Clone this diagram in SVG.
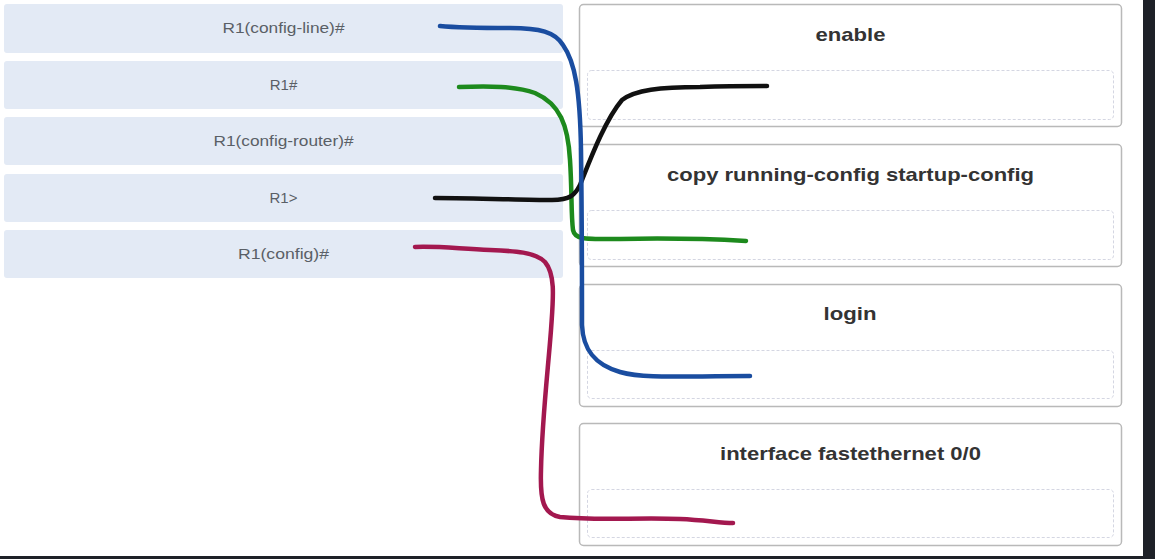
<svg xmlns="http://www.w3.org/2000/svg" width="1155" height="559" viewBox="0 0 1155 559">
<style>
.src{fill:#e3eaf5;}
.srct{font-family:"Liberation Sans",Arial,sans-serif;font-size:15px;fill:#5a5f66;text-anchor:middle;}
.tgt{fill:#ffffff;stroke:#b9b9b9;stroke-width:1.5;}
.drop{fill:#ffffff;stroke:#d4d6e2;stroke-width:1;stroke-dasharray:3 2;}
.tt{font-family:"Liberation Sans",Arial,sans-serif;font-size:19px;font-weight:bold;fill:#333333;text-anchor:middle;}
.ln{fill:none;stroke-width:4.5;stroke-linecap:round;stroke-linejoin:round;}
</style>
<rect x="0" y="0" width="1155" height="559" fill="#ffffff"/>
<rect x="1143" y="0" width="12" height="559" fill="#1e2128"/>
<rect x="0" y="556" width="1155" height="3" fill="#1e2128"/>

<g id="src1"><rect class="src" x="4" y="4" width="559" height="49" rx="3"/><text class="srct" x="283.5" y="33" textLength="122" lengthAdjust="spacingAndGlyphs">R1(config-line)#</text></g>
<g id="src2"><rect class="src" x="4" y="61" width="559" height="48" rx="3"/><text class="srct" x="283.5" y="90">R1#</text></g>
<g id="src3"><rect class="src" x="4" y="117" width="559" height="48" rx="3"/><text class="srct" x="283.5" y="146" textLength="140" lengthAdjust="spacingAndGlyphs">R1(config-router)#</text></g>
<g id="src4"><rect class="src" x="4" y="174" width="559" height="48" rx="3"/><text class="srct" x="283.5" y="203">R1&gt;</text></g>
<g id="src5"><rect class="src" x="4" y="230" width="559" height="48" rx="3"/><text class="srct" x="283.5" y="259" textLength="91" lengthAdjust="spacingAndGlyphs">R1(config)#</text></g>

<g id="tgt1"><rect class="tgt" x="579.5" y="4.5" width="542" height="122" rx="4"/><rect class="drop" x="587.5" y="70.5" width="526" height="49" rx="4"/><text class="tt" x="850.5" y="41" textLength="70" lengthAdjust="spacingAndGlyphs">enable</text></g>
<g id="tgt2"><rect class="tgt" x="579.5" y="144.5" width="542" height="122" rx="4"/><rect class="drop" x="587.5" y="210.5" width="526" height="49" rx="4"/><text class="tt" x="850.5" y="181" textLength="367" lengthAdjust="spacingAndGlyphs">copy running-config startup-config</text></g>
<g id="tgt3"><rect class="tgt" x="579.5" y="284.5" width="542" height="122" rx="4"/><rect class="drop" x="587.5" y="350.5" width="526" height="48" rx="4"/><text class="tt" x="850" y="320" textLength="53" lengthAdjust="spacingAndGlyphs">login</text></g>
<g id="tgt4"><rect class="tgt" x="579.5" y="423.5" width="542" height="122" rx="4"/><rect class="drop" x="587.5" y="489.5" width="526" height="48" rx="4"/><text class="tt" x="850.5" y="460" textLength="261" lengthAdjust="spacingAndGlyphs">interface fastethernet 0/0</text></g>

<g id="connectors">
<path class="ln" stroke="#a3184f" d="M415,247 C440,246 460,249 490,250 C515,251 535,252 545,262 C556,275 553,300 551,330 C548,370 542,420 541,470 C540,500 543,514 560,517 C600,521 640,517 680,519 C705,520 720,523 733,523"/>
<path class="ln" stroke="#1d8a1d" d="M459,87 C490,86 515,86 535,93 C560,104 568,125 570,160 C572,190 571,215 573,230 C575,240 585,239 620,239 C670,238 710,239 746,241"/>
<path class="ln" stroke="#111111" d="M435,198 C480,198 520,200 552,200 C570,200 575,195 580,185 C590,160 605,120 622,100 C635,90 660,87 700,87 C730,86 750,86 767,86"/>
<path class="ln" stroke="#1a4da0" d="M440,26 C460,28 480,28 510,28 C540,28 555,32 563,45 C575,62 580,90 581,150 C582,220 582,280 582,325 C583,350 595,365 620,372 C645,379 680,376 750,376"/>
</g>
</svg>
